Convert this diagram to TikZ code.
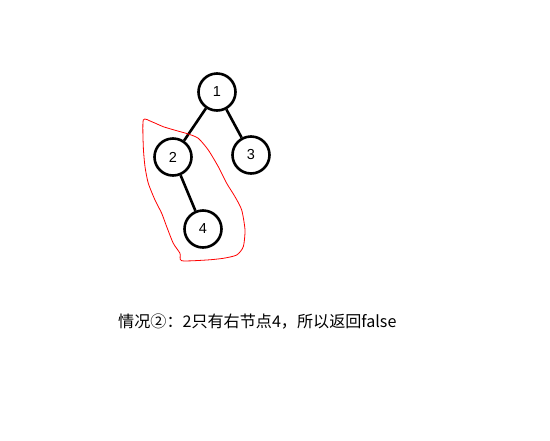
\documentclass[tikz,border=0pt]{standalone}
\usepackage{fontspec}
\setmainfont{Liberation Sans}
\newfontfamily\cjk{Noto Sans CJK SC}
\begin{document}
\begin{tikzpicture}[x=1pt,y=-1pt,
  treenode/.style={circle,draw=black,line width=2.6pt,minimum size=37pt,inner sep=0pt,font=\fontsize{14.5}{14.5}\selectfont},
  treeedge/.style={line width=2.6pt,draw=black}]
\useasboundingbox (0,0) rectangle (550,440);
\node[treenode] (n1) at (217,92) {1};
\node[treenode] (n2) at (173,157) {2};
\node[treenode] (n3) at (251,155) {3};
\node[treenode] (n4) at (203,229) {4};
\draw[treeedge] (n1) -- (n2);
\draw[treeedge] (n1) -- (n3);
\draw[treeedge] (n2) -- (n4);
\draw[red,line width=0.8pt] plot[smooth cycle,tension=0.4] coordinates{
(143.3,120) (151.7,121.7) (163.3,126.7) (176.7,130.7) (188.3,134) (198.3,138.3)
(208.3,150) (218.3,166.7) (226.7,183.3) (235,196.7) (241.7,210) (245,230)
(243.3,246.7) (236.7,255) (223.3,258.3) (206.7,260) (181.7,260.7) (180,253.3)
(173.3,243.3) (166.7,226.7) (161.7,213.3) (155,200) (148.3,183.3) (145,166.7)
(143.3,146.7)};
\node[anchor=west,inner sep=0pt,font=\cjk\fontsize{16.1}{16.1}\selectfont] (cap) at (118,322) {情况②：2只有右节点4，所以返回false};
\end{tikzpicture}
\end{document}
